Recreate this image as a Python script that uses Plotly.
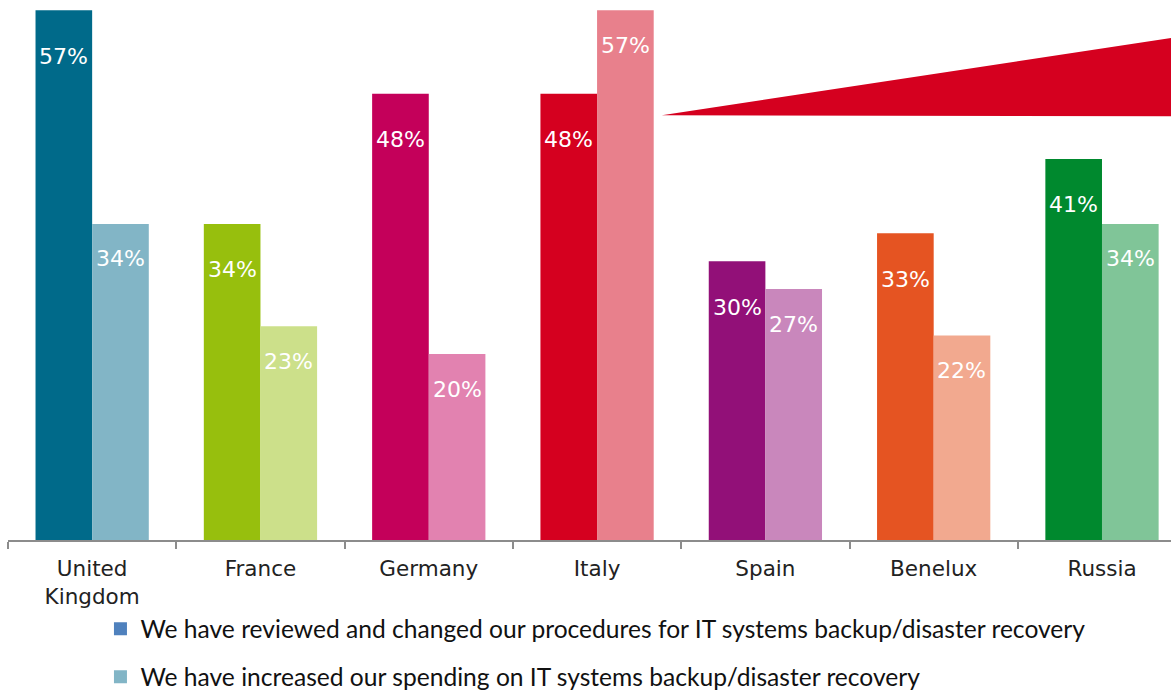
import plotly.graph_objects as go

# Survey results by country (% of respondents)
countries = ["United<br>Kingdom", "France", "Germany", "Italy", "Spain", "Benelux", "Russia"]
reviewed = [57, 34, 48, 48, 30, 33, 41]
increased = [34, 23, 20, 57, 27, 22, 34]

series_names = [
    "We have reviewed and changed our procedures for IT systems backup/disaster recovery",
    "We have increased our spending on IT systems backup/disaster recovery",
]

# Country colour pairs: strong shade for the first series, pale shade for the second
dark_colors = ["#006A8A", "#97BF0D", "#C4005A", "#D5001F", "#921078", "#E55422", "#00892E"]
light_colors = ["#82B5C6", "#CCE08A", "#E282B0", "#E8808C", "#C987BC", "#F2A98F", "#80C598"]
legend_colors = ["#4F81BD", "#82B5C6"]

fig = go.Figure()

fig.add_trace(go.Bar(x=countries, y=reviewed, marker=dict(color=dark_colors, line=dict(width=0)),
                     showlegend=False, hoverinfo="skip"))
fig.add_trace(go.Bar(x=countries, y=increased, marker=dict(color=light_colors, line=dict(width=0)),
                     showlegend=False, hoverinfo="skip"))

# Legend entries with neutral square swatches
for i, (name, col) in enumerate(zip(series_names, legend_colors)):
    fig.add_trace(go.Scatter(x=[None], y=[None], name=name, mode="markers",
                             marker=dict(symbol="square", size=13, color=col),
                             legendgroup=f"g{i}", showlegend=True))

# Value labels inside the top of each bar
label_font = dict(family="DejaVu Sans, Verdana, sans-serif", size=22, color="white")
half_bar = 28.3
for c, v in zip(countries, reviewed):
    fig.add_annotation(x=c, y=v, text=f"{v}%", showarrow=False, xshift=-half_bar,
                       yanchor="middle", yshift=-46, font=label_font)
for c, v in zip(countries, increased):
    fig.add_annotation(x=c, y=v, text=f"{v}%", showarrow=False, xshift=half_bar,
                       yanchor="middle", yshift=-35, font=label_font)

# Red wedge on the right
fig.add_shape(type="path", xref="paper", yref="y",
              path="M 0.5622,45.7 L 1.0,54.0 L 1.0,45.6 Z",
              fillcolor="#D5001F", line=dict(width=0), layer="above")

fig.update_layout(
    width=1171, height=692,
    margin=dict(l=8, r=0, t=0, b=152, autoexpand=False),
    plot_bgcolor="white", paper_bgcolor="white",
    barmode="group", bargap=0.327, bargroupgap=0,
    font=dict(family="DejaVu Sans, Verdana, sans-serif", size=22, color="#222222"),
    xaxis=dict(
        type="category", range=[-0.5, 6.41],
        showline=True, linecolor="#8C8C8C", linewidth=2,
        ticks="outside", tickson="boundaries", ticklen=7, tickcolor="#8C8C8C", tickwidth=2,
        ticklabelstandoff=8,
        tickfont=dict(family="DejaVu Sans, Verdana, sans-serif", size=21.5, color="#222222"),
        showgrid=False, zeroline=False,
    ),
    yaxis=dict(range=[0, 58.1], visible=False, showgrid=False, zeroline=False),
    legend=dict(
        orientation="v", x=0.0795, xanchor="left",
        yref="container", y=0.124, yanchor="top",
        traceorder="grouped", tracegroupgap=13,
        font=dict(family="Lato, Calibri, sans-serif", size=24.6, color="#111111"),
        bgcolor="rgba(0,0,0,0)",
    ),
)

fig.write_html("out.html")
